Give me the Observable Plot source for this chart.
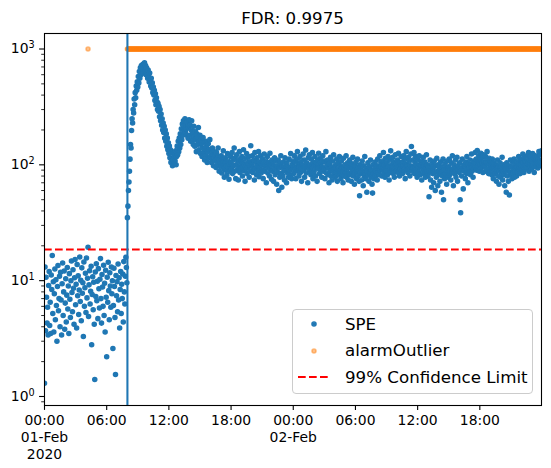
<!DOCTYPE html>
<html>
<head>
<meta charset="utf-8">
<script src="https://cdn.jsdelivr.net/npm/d3@7"></script>
<script src="https://cdn.jsdelivr.net/npm/@observablehq/plot@0.6"></script>
<style>
  body { margin: 0; background: #fff; }
  #wrap { position: relative; width: 551px; height: 468px; font-family: "DejaVu Sans", sans-serif; }
  #title { height: 27px; box-sizing: border-box; padding-top: 11px; line-height: 16px; font-size: 16.67px; text-align: center; width: 585px; }
  #chart svg { display: block; }
  #legend { position: absolute; left: 292px; top: 309px; width: 241px; height: 85px; box-sizing: border-box;
            border: 1px solid #cccccc; border-radius: 4px; background: rgba(255,255,255,0.8);
            padding: 5px 0 0 4px; font-size: 16.67px; color: #000; }
  .row { display: flex; align-items: center; height: 18.5px; margin-bottom: 8px; }
  .row span { margin-left: 17px; white-space: nowrap; }
</style>
</head>
<body>
<div id="wrap">
  <div id="title"></div>
  <div id="chart"></div>
  <div id="legend"></div>
</div>
<script>
// ---- data (SPE sampled every 3 minutes from 2020-02-01 00:00 UTC) ----
const chartTitle = "FDR: 0.9975";
const sampleMinutes = 3;
const startTime = Date.UTC(2020, 1, 1, 0, 0);
const eventTime = new Date(Date.UTC(2020, 1, 1, 8, 0));
const confidenceLimit = 18.6;
const alarmLevel = 1000;
const seriesLabels = ["SPE", "alarmOutlier", "99% Confidence Limit"];

// 00:00 - 07:57, Feb 1
const spePre = [
1.3, 13.1, 3.7, 10.7, 7.2, 4.3, 5.9, 3.4, 9.1, 12.0,
4.1, 6.5, 3.5, 11.2, 8.4, 16.5, 5.2, 9.8, 3.6, 7.7,
12.6, 4.6, 10.2, 6.1, 3.0, 8.9, 13.5, 5.5, 7.0, 10.9,
4.0, 11.8, 6.8, 3.4, 9.4, 14.2, 5.0, 8.0, 12.1, 3.8,
6.4, 10.4, 4.4, 7.5, 13.0, 5.7, 9.0, 3.5, 11.5, 6.9,
4.8, 10.0, 14.8, 7.9, 5.4, 12.4, 8.6, 4.2, 10.6, 15.2,
6.2, 9.3, 3.9, 13.8, 7.4, 11.0, 5.1, 8.3, 16.0, 6.6,
10.1, 4.5, 12.9, 7.8, 9.6, 3.3, 14.5, 6.0, 8.7, 11.6,
5.3, 15.7, 7.1, 10.5, 19.4, 4.9, 9.2, 12.2, 6.3, 8.1,
13.3, 2.8, 7.6, 10.8, 5.6, 9.7, 4.2, 1.4, 11.9, 7.3,
14.0, 6.7, 9.9, 4.7, 12.7, 8.5, 5.8, 10.3, 15.5, 7.0,
4.3, 11.3, 8.8, 6.0, 13.6, 5.0, 9.5, 3.6, 12.3, 7.2,
2.2, 10.7, 6.5, 14.4, 8.2, 4.6, 11.7, 9.0, 5.9, 13.1,
7.7, 10.0, 2.6, 6.1, 12.8, 8.9, 4.8, 1.55, 11.1, 7.4,
9.8, 5.4, 13.9, 6.8, 10.6, 3.9, 8.4, 12.0, 5.2, 9.3,
7.0, 11.4, 4.4, 14.6, 8.0, 6.3, 10.9, 15.9, 13.0, 9.6
];

// 08:00 - 23:57, Feb 1
const speDay1Post = [
35, 44, 60, 71, 88, 112, 150, 140, 198, 250,
230, 300, 280, 370, 330, 420, 380, 480, 440, 520,
470, 580, 510, 640, 560, 690, 600, 720, 650, 700,
740, 620, 700, 760, 650, 720, 600, 690, 640, 560,
660, 580, 520, 620, 540, 480, 560, 460, 510, 420,
470, 400, 440, 360, 410, 330, 380, 350, 300, 340,
290, 320, 260, 300, 240, 275, 220, 250, 200, 230,
190, 215, 170, 200, 160, 185, 145, 170, 135, 155,
125, 145, 115, 135, 105, 128, 112, 98, 125, 110,
102, 120, 108, 132, 100, 118, 145, 122, 160, 130,
170, 140, 185, 150, 205, 165, 225, 180, 240, 195,
215, 250, 190, 230, 205, 180, 235, 170, 210, 245,
180, 220, 160, 200, 240, 165, 190, 150, 215, 175,
145, 195, 165, 130, 185, 150, 170, 210, 135, 160,
180, 125, 150, 165, 118, 140, 172, 128, 155, 110,
138, 160, 120, 145, 105, 130, 152, 115, 135, 165,
118, 135, 105, 125, 140, 112, 98, 130, 115, 122,
108, 95, 128, 112, 100, 140, 118, 88, 110, 104,
96, 120, 85, 110, 100, 132, 92, 78, 105, 115,
90, 98, 82, 125, 108, 95, 75, 102, 88, 118,
105, 92, 128, 84, 110, 98, 140, 88, 115, 76,
100, 122, 90, 108, 74, 95, 130, 86, 112, 102,
93, 118, 80, 105, 135, 89, 99, 72, 114, 96,
125, 84, 104, 92, 118, 78, 108, 98, 146, 88,
102, 120, 86, 95, 110, 74, 128, 92, 105, 82,
115, 97, 88, 130, 79, 106, 94, 120, 85, 100,
90, 112, 76, 102, 124, 88, 96, 108, 70, 99,
118, 85, 94, 105, 80, 126, 91, 100, 75, 110,
88, 104, 72, 96, 115, 82, 92, 108, 68, 98,
86, 110, 60, 94, 78, 102, 120, 84, 64, 96,
80, 106, 90, 74, 115, 88, 98, 70, 104, 85,
96, 78, 112, 90, 82, 125, 94, 76, 100, 108
];

// 00:00 - 23:57, Feb 2
const speDay2 = [
98, 84, 120, 90, 106, 76, 112, 95, 130, 88,
102, 80, 96, 118, 86, 108, 72, 100, 92, 124,
90, 110, 78, 98, 134, 85, 104, 94, 70, 115,
96, 122, 88, 100, 82, 112, 92, 128, 76, 104,
86, 98, 118, 80, 106, 92, 72, 110, 95, 126,
100, 84, 114, 90, 104, 78, 96, 120, 88, 108,
92, 76, 106, 130, 85, 98, 110, 82, 94, 70,
102, 88, 116, 80, 96, 74, 108, 90, 122, 84,
94, 78, 100, 86, 112, 72, 92, 104, 82, 118,
88, 98, 76, 108, 84, 94, 70, 114, 90, 80,
100, 86, 120, 78, 92, 104, 74, 96, 84, 110,
82, 94, 72, 102, 88, 116, 80, 92, 68, 98,
86, 106, 76, 90, 112, 80, 96, 72, 54, 100,
84, 92, 74, 108, 88, 66, 98, 80, 118, 86,
76, 94, 58, 88, 104, 82, 72, 96, 86, 110,
78, 90, 68, 57, 100, 84, 76, 92, 106, 80,
88, 98, 74, 112, 86, 94, 82, 120, 90, 104,
96, 80, 108, 92, 128, 86, 100, 78, 114, 94,
88, 104, 82, 118, 96, 74, 110, 90, 132, 86,
100, 92, 116, 84, 106, 78, 96, 122, 88, 102,
94, 110, 86, 126, 98, 80, 104, 92, 118, 88,
106, 84, 98, 120, 90, 112, 76, 102, 130, 94,
100, 86, 116, 92, 108, 80, 98, 124, 144, 96,
88, 110, 94, 128, 84, 104, 118, 90, 100, 78,
112, 94, 86, 120, 100, 82, 108, 96, 74, 104,
90, 116, 84, 98, 106, 78, 92, 122, 86, 100,
80, 96, 53, 88, 110, 74, 92, 64, 102, 84,
94, 70, 108, 86, 60, 98, 78, 114, 88, 66,
100, 82, 92, 72, 106, 86, 58, 96, 80, 112,
50, 90, 76, 102, 84, 94, 68, 108, 88, 78,
96, 112, 82, 90, 74, 104, 86, 120, 92, 66,
100, 84, 94, 110, 78, 88, 116, 72, 98, 90,
86, 104, 50, 38.5, 94, 80, 112, 90, 62, 100,
88, 98, 76, 106, 84, 118, 92, 70, 102, 86,
94, 110, 82, 100, 124, 88, 96, 78, 108, 92,
104, 128, 96, 112, 90, 133, 106, 98, 120, 88,
110, 100, 126, 94, 116, 104, 86, 122, 98, 108,
96, 118, 88, 106, 130, 92, 102, 84, 114, 100,
90, 108, 96, 82, 112, 94, 76, 104, 88, 98,
84, 100, 72, 92, 110, 80, 96, 68, 88, 104,
78, 94, 86, 116, 74, 90, 100, 82, 66, 96,
88, 58, 104, 80, 92, 72, 98, 55, 86, 110,
82, 96, 76, 106, 90, 84, 112, 78, 100, 88,
94, 80, 108, 96, 86, 118, 92, 102, 84, 110,
98, 112, 90, 124, 104, 86, 116, 96, 108, 92,
106, 120, 94, 102, 128, 88, 112, 100, 96, 118,
92, 108, 125, 98, 114, 86, 104, 120, 96, 110,
102, 118, 94, 112, 130, 100, 106, 122, 98, 132
];

const yMajorTicks = [1, 10, 100, 1000];

// ---- build tables ----
const speValues = [...spePre, ...speDay1Post, ...speDay2];
const spe = speValues.map((v, i) => ({t: new Date(startTime + i * sampleMinutes * 60000), v}));
const alarmOutlier = spe.filter(d => d.v > confidenceLimit).map(d => ({t: d.t, v: alarmLevel}));
const tStart = spe[0].t, tEnd = spe[spe.length - 1].t;

const yDomain = [0.836, 1361];
const yMinorTicks = [];
for (const base of [0.1, 1, 10, 100, 1000])
  for (let k = 2; k <= 9; k++) {
    const v = +(base * k).toPrecision(3);
    if (v >= yDomain[0] && v <= yDomain[1]) yMinorTicks.push(v);
  }

const xTicks = d3.utcHour.every(6).range(tStart, new Date(+tEnd + 1));
const midnightTicks = xTicks.filter(d => d.getUTCHours() === 0);
const firstTick = [xTicks[0]];

const blue = "#1f77b4", orange = "#ff7f0e";
const tick = 4.9, pad = 4.9, lineStep = 16.7;

const chart = Plot.plot({
  width: 551,
  height: 441,
  marginLeft: 44,
  marginRight: 10,
  marginTop: 6,
  marginBottom: 63,
  style: {fontFamily: "DejaVu Sans", fontSize: "13.9px", background: "#fff", overflow: "visible"},
  x: {type: "utc", domain: [tStart, tEnd], label: null},
  y: {type: "log", domain: yDomain, label: null},
  marks: [
    Plot.dot(spe, {x: "t", y: "v", r: 2.08, fill: blue, stroke: blue, strokeWidth: 1.39, clip: true}),
    Plot.dot(alarmOutlier, {x: "t", y: "v", r: 2.08, fill: orange, fillOpacity: 0.5, stroke: orange, strokeOpacity: 0.5, strokeWidth: 1.39, clip: true}),
    Plot.ruleY([confidenceLimit], {stroke: "red", strokeWidth: 2.08, strokeDasharray: "7.7,3.3"}),
    Plot.ruleX([eventTime], {stroke: blue, strokeWidth: 2.08}),
    Plot.axisY(yMinorTicks, {tickSize: 2.8, strokeWidth: 0.83, tickFormat: () => "", label: null}),
    Plot.axisY(yMajorTicks, {tickSize: tick, tickPadding: pad, strokeWidth: 1.1, tickFormat: d => "10|" + Math.round(Math.log10(d)), fontSize: 13.9, label: null}),
    Plot.axisX(xTicks, {tickSize: tick, tickPadding: pad, strokeWidth: 1.1, tickFormat: d3.utcFormat("%H:%M"), fontSize: 13.9, label: null}),
    Plot.axisX(midnightTicks, {tickSize: 0, tickPadding: tick + pad + lineStep, tickFormat: d3.utcFormat("%d-%b"), fontSize: 13.9, label: null}),
    Plot.axisX(firstTick, {tickSize: 0, tickPadding: tick + pad + 2 * lineStep, tickFormat: d3.utcFormat("%Y"), fontSize: 13.9, label: null}),
    Plot.frame({stroke: "#000", strokeWidth: 1.1})
  ]
});

// render y tick labels as 10 with a superscript exponent (mathtext style)
chart.querySelectorAll("text").forEach(t => {
  const s = t.textContent;
  if (/^10\|-?\d+$/.test(s)) {
    const [base, exp] = s.split("|");
    while (t.firstChild) t.removeChild(t.firstChild);
    const a = document.createElementNS("http://www.w3.org/2000/svg", "tspan");
    a.textContent = base;
    const b = document.createElementNS("http://www.w3.org/2000/svg", "tspan");
    b.textContent = exp;
    b.setAttribute("font-size", "9.7px");
    b.setAttribute("dy", "-0.55em");
    t.appendChild(a);
    t.appendChild(b);
  }
});

document.getElementById("chart").appendChild(chart);
document.getElementById("title").textContent = chartTitle;

// ---- legend ----
const legend = document.getElementById("legend");
const handles = [
  `<svg width="31" height="18"><circle cx="17" cy="9" r="2.08" fill="${blue}" stroke="${blue}" stroke-width="1.39"/></svg>`,
  `<svg width="31" height="18"><circle cx="17" cy="9" r="2.08" fill="${orange}" fill-opacity="0.5" stroke="${orange}" stroke-opacity="0.5" stroke-width="1.39"/></svg>`,
  `<svg width="31" height="18"><line x1="1" x2="32" y1="9" y2="9" stroke="red" stroke-width="2.08" stroke-dasharray="7.7,3.3"/></svg>`
];
seriesLabels.forEach((label, i) => {
  const row = document.createElement("div");
  row.className = "row";
  row.innerHTML = handles[i];
  const s = document.createElement("span");
  s.textContent = label;
  row.appendChild(s);
  legend.appendChild(row);
});
</script>
</body>
</html>
